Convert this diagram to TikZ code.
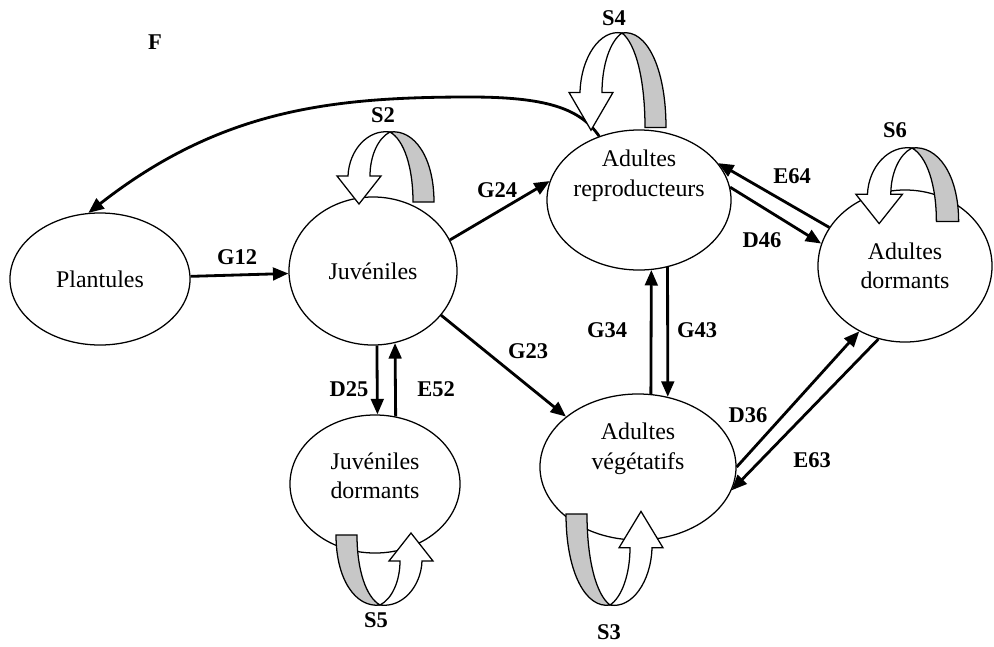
\documentclass[tikz,border=0pt]{standalone}
\usepackage{fontspec}
\setmainfont{Liberation Serif}
\usetikzlibrary{shapes.geometric, arrows.meta, calc}

% ruban courbe (boucle S)
\tikzset{
  boucle/.pic={
    \filldraw[fill=black!22, line width=0.9pt]
      (0,0) .. controls (24,-3) and (44,25) .. (44,70) -- (23,70)
      .. controls (23,35) and (14,8) .. (0,0) -- cycle;
    \filldraw[fill=white, line width=0.9pt]
      (0,0) .. controls (-22,-3) and (-41,18) .. (-42,44) -- (-53,44)
      -- (-31,72) -- (-9,44) -- (-20,44)
      .. controls (-20,24) and (-12,6) .. (0,0) -- cycle;
  }
}

\begin{document}
\begin{tikzpicture}[x=0.025cm, y=-0.025cm,
    etat/.style={ellipse, draw, line width=0.9pt, inner sep=0pt},
    txt/.style={align=center, font=\fontsize{17}{21}\selectfont},
    lab/.style={font=\fontsize{16}{18}\selectfont\bfseries},
    fl/.style={line width=2pt, -{Triangle[length=11pt,width=9pt]}}
  ]
  \useasboundingbox (0,0) rectangle (994,646);

  % les etats
  \node[etat, minimum width=4.5cm, minimum height=3.3cm] (pl) at (100,279) {};
  \node[etat, minimum width=4.2cm, minimum height=3.7cm] (ju) at (373,271) {};
  \node[etat, minimum width=4.6cm, minimum height=3.5cm] (ar) at (639,200) {};
  \node[etat, minimum width=4.35cm, minimum height=3.8cm] (ad) at (905,266) {};
  \node[etat, minimum width=4.9cm, minimum height=3.65cm] (av) at (638,467) {};
  \node[etat, minimum width=4.25cm, minimum height=3.45cm] (jd) at (375,484) {};

  \node[txt] (tpl) at (pl.center) {Plantules};
  \node[txt] (tju) at (ju.center) {Juvéniles};
  \node[txt] (tar) at ([yshift=0.6cm]ar.center) {Adultes\\reproducteurs};
  \node[txt] (tad) at (ad.center) {Adultes\\dormants};
  \node[txt] (tav) at ([yshift=0.45cm]av.center) {Adultes\\végétatifs};
  \node[txt] (tjd) at ([yshift=0.2cm]jd.center) {Juvéniles\\dormants};

  % transitions
  \draw[fl] (pl) -- (ju);
  \draw[fl] (ju.22) -- (ar.168);
  \draw[fl] (ju.-33) -- (av.145);
  \draw[fl] (ju.-87) -- (jd.88);
  \draw[fl] (jd.73) -- (ju.-73);
  \draw[fl] (av.80) -- (ar.-80);
  \draw[fl] (ar.-67) -- (av.67);
  \draw[fl] (ad.153) -- (ar.25);
  \draw[fl] (ar.8) -- (ad.165);
  \draw[fl] (av.0) -- (ad.235);
  \draw[fl] (ad.250) -- (av.-14);
  \draw[fl] (ar.122) .. controls (580,108) and (545,97) .. (470,97)
        .. controls (330,97) and (220,110) .. (pl.100);

  % boucles
  \pic at (390,132) {boucle};
  \pic[yscale=1.35] at (622,33) {boucle};
  \pic[xscale=1.06, yscale=1.05] at (912,148) {boucle};
  \pic[rotate=180] at (380,605) {boucle};
  \pic[rotate=180, yscale=1.3] at (610,605) {boucle};

  % etiquettes
  \node[lab] (lF) at (155,42) {F};
  \node[lab] (l12) at (237,257) {G12};
  \node[lab] (l24) at (497,190) {G24};
  \node[lab] (l23) at (528,351) {G23};
  \node[lab] (l34) at (607,330) {G34};
  \node[lab] (l43) at (697,330) {G43};
  \node[lab] (l25) at (349,389) {D25};
  \node[lab] (l52) at (436,389) {E52};
  \node[lab] (l46) at (762,240) {D46};
  \node[lab] (l64) at (792,176) {E64};
  \node[lab] (l36) at (748,415) {D36};
  \node[lab] (l63) at (812,460) {E63};
  \node[lab] (lS2) at (383,115) {S2};
  \node[lab] (lS4) at (614,18) {S4};
  \node[lab] (lS6) at (895,130) {S6};
  \node[lab] (lS3) at (609,632) {S3};
  \node[lab] (lS5) at (376,620) {S5};
\end{tikzpicture}
\end{document}
